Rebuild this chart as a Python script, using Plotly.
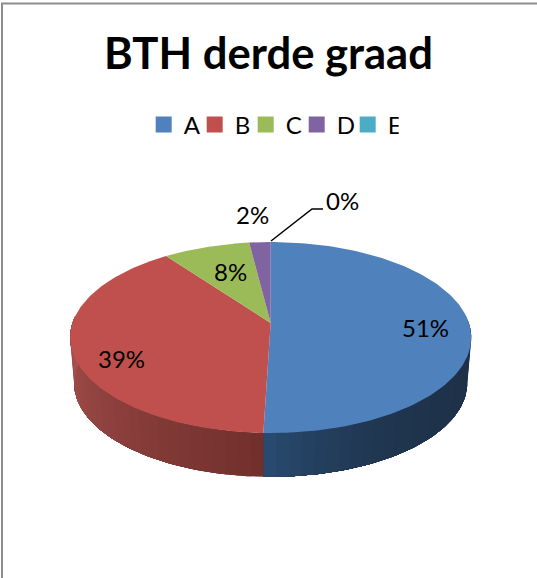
import numpy as np
import plotly.graph_objects as go

# Data
title_text = "BTH derde graad"
categories = ["A", "B", "C", "D", "E"]
values = [50.5, 39.4, 8.1, 2.0, 0.0]
colors = ["#4F81BD", "#C0504D", "#9BBB59", "#8064A2", "#4BACC6"]

# 3D-pie geometry, in page pixels
CX, CY = 270.7, 323.0
A, C, K = 198.2, 93.3, 0.152
DEPTH, SHRINK = 46.0, 0.98
FONT = "Lato, Carlito, Calibri, sans-serif"


def top(theta):
    w = 1 + K * np.cos(theta)
    return CX + A * np.sin(theta) / w, CY - C * np.cos(theta) / w


def low(theta):
    w = 1 + K * np.cos(theta)
    return CX + SHRINK * A * np.sin(theta) / w, CY + DEPTH - SHRINK * C * np.cos(theta) / w


def mix(c1, c2, f):
    a = [int(c1[i:i + 2], 16) for i in (1, 3, 5)]
    b = [int(c2[i:i + 2], 16) for i in (1, 3, 5)]
    return "rgb(%d,%d,%d)" % tuple(round(p + (q - p) * f) for p, q in zip(a, b))


fig = go.Figure()
fractions = np.array(values) / sum(values)
edges = np.concatenate([[0], np.cumsum(fractions)]) * 2 * np.pi

# side wall: overlapping bands painted along the rim give the shading
wall_shades = {0: ("#1E3149", "#284A6E"), 1: ("#72302D", "#A9524F")}
for i, (c_start, c_end) in wall_shades.items():
    lo = max(edges[i], np.pi / 2 - 0.08)
    hi = min(edges[i + 1], 3 * np.pi / 2 + 0.08)
    n = 30
    steps = np.linspace(lo, hi, n + 1)
    for j in range(n):
        f = j / (n - 1)
        f_col = f ** 4 if i == 0 else f
        t = np.linspace(steps[j], hi, 4 + 3 * (n - j))
        tx, ty = top(t)
        bx, by = low(t)
        fig.add_trace(go.Scatter(
            x=np.concatenate([tx, bx[::-1]]), y=np.concatenate([ty, by[::-1]]),
            mode="lines", fill="toself", line=dict(width=0),
            fillcolor=mix(c_start, c_end, f_col),
            hoverinfo="skip", showlegend=False))

# top face wedges
for i, cat in enumerate(categories):
    if fractions[i] <= 0:
        continue
    t = np.linspace(edges[i], edges[i + 1], 160)
    x, y = top(t)
    fig.add_trace(go.Scatter(
        x=np.concatenate([[CX], x, [CX]]), y=np.concatenate([[CY], y, [CY]]),
        mode="lines", fill="toself", line=dict(width=0), fillcolor=colors[i],
        name=cat, hoverinfo="skip", showlegend=False))

# legend
for cat, col in zip(categories, colors):
    fig.add_trace(go.Scatter(
        x=[None], y=[None], mode="markers", name=cat,
        marker=dict(symbol="square", size=16, color=col)))

# labels
label_pos = [(425, 327), (121, 358), (230, 271), (252, 214), (342, 200)]
for v, (lx, ly) in zip(fractions, label_pos):
    fig.add_annotation(x=lx, y=ly, text=f"{int(v * 100 + 0.5 + 1e-9)}%", showarrow=False,
                       font=dict(family=FONT, size=24, color="#000000"))

# leader line and frame
fig.add_shape(type="path", path="M 271 241 L 312 209 L 323 209",
              line=dict(color="#000000", width=1.5))
fig.add_shape(type="path", path="M 2 578 L 2 3.5 L 537 3.5",
              line=dict(color="#8C8C8C", width=2))

fig.update_layout(
    width=537, height=578, autosize=False,
    margin=dict(l=0, r=0, t=0, b=0),
    paper_bgcolor="#FFFFFF", plot_bgcolor="#FFFFFF",
    title=dict(text=title_text, x=0.5, xanchor="center", y=0.880, yanchor="bottom",
               font=dict(family=FONT, size=43.6, color="#000000", weight="bold")),
    xaxis=dict(range=[0, 537], visible=False, fixedrange=True),
    yaxis=dict(range=[578, 0], visible=False, fixedrange=True),
    legend=dict(orientation="h", x=0.505, xanchor="center", y=0.784, yanchor="middle",
                font=dict(family=FONT, size=24, color="#000000"),
                itemwidth=30, entrywidth=6, entrywidthmode="pixels",
                tracegroupgap=0, bgcolor="rgba(0,0,0,0)"),
)

fig.write_html("out.html", config=dict(displayModeBar=False),
               post_script="document.body.style.margin='0';")
